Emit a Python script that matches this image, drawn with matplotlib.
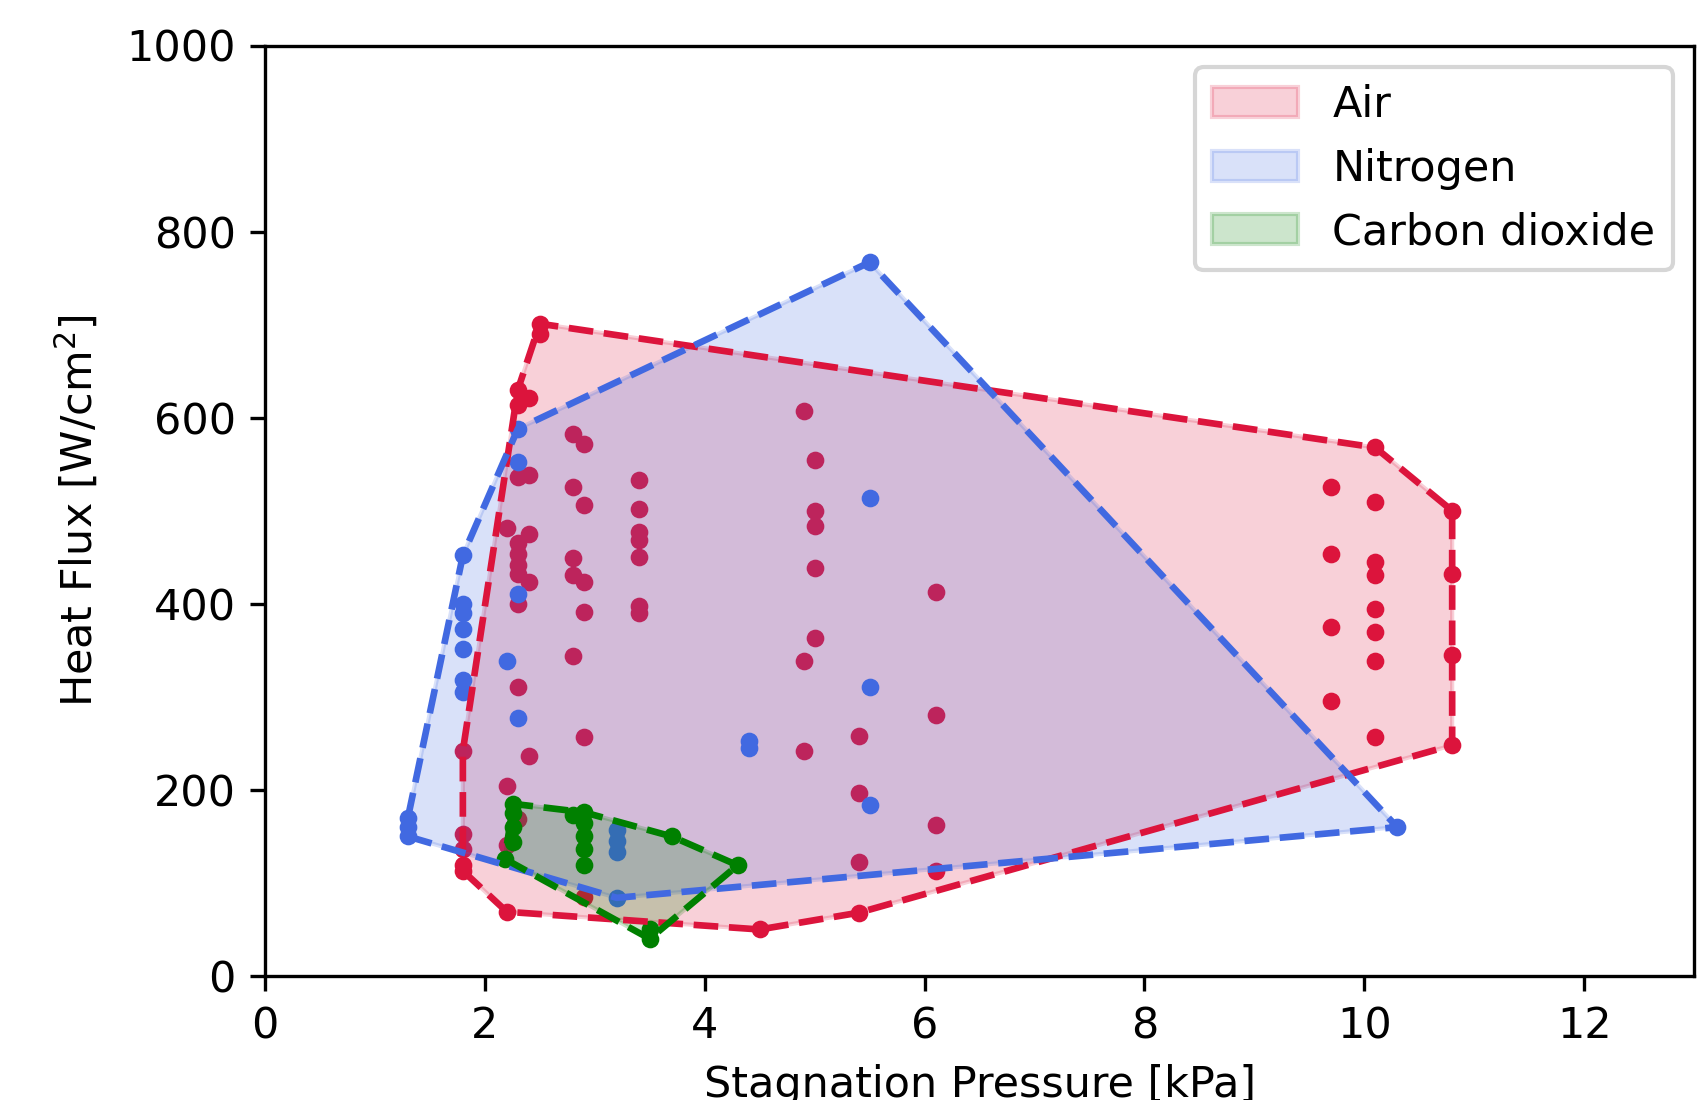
import matplotlib
matplotlib.use("Agg")
import matplotlib.pyplot as plt

# --- data (stagnation pressure kPa, heat flux W/cm2) ---
air_p = [1.8, 1.8, 1.8, 1.8, 1.8,
         2.2, 2.2, 2.2, 2.2,
         2.3, 2.3, 2.3, 2.3, 2.3, 2.3, 2.3, 2.3, 2.3, 2.3,
         2.4, 2.4, 2.4, 2.4, 2.4,
         2.5, 2.5,
         2.8, 2.8, 2.8, 2.8, 2.8,
         2.9, 2.9, 2.9, 2.9, 2.9, 2.9,
         3.4, 3.4, 3.4, 3.4, 3.4, 3.4, 3.4,
         4.5,
         4.9, 4.9, 4.9,
         5.0, 5.0, 5.0, 5.0, 5.0,
         5.4, 5.4, 5.4, 5.4,
         6.1, 6.1, 6.1, 6.1,
         9.7, 9.7, 9.7, 9.7,
         10.1, 10.1, 10.1, 10.1, 10.1, 10.1, 10.1, 10.1,
         10.8, 10.8, 10.8, 10.8]
air_q = [242, 153, 137, 119, 113,
         481, 204, 141, 69,
         630, 614, 536, 465, 454, 442, 432, 400, 311, 169,
         621, 538, 475, 423, 236,
         701, 690,
         583, 526, 449, 431, 344,
         572, 506, 423, 391, 257, 85,
         533, 502, 477, 469, 450, 398, 390,
         50,
         607, 339, 242,
         555, 500, 484, 439, 363,
         258, 197, 122, 68,
         413, 281, 162, 113,
         526, 454, 375, 296,
         568, 509, 445, 431, 394, 370, 339, 257,
         500, 432, 345, 248]

n2_p = [1.3, 1.3, 1.3,
        1.8, 1.8, 1.8, 1.8, 1.8, 1.8, 1.8,
        2.2,
        2.3, 2.3, 2.3, 2.3,
        3.2, 3.2, 3.2, 3.2,
        4.4, 4.4,
        5.5, 5.5, 5.5, 5.5,
        10.3]
n2_q = [170, 160, 150,
        452, 400, 390, 373, 351, 318, 305,
        338,
        588, 552, 411, 277,
        157, 145, 133, 84,
        253, 245,
        767, 514, 311, 184,
        160]

co2_p = [2.18, 2.26, 2.26, 2.26, 2.26,
         2.8, 2.9, 2.9, 2.9, 2.9, 2.9,
         3.5, 3.5, 3.7, 4.3]
co2_q = [126, 185, 175, 160, 144,
         173, 176, 164, 150, 137, 119,
         50, 40, 150, 119]

gases = ["Air", "Nitrogen", "Carbon dioxide"]
colors = ["crimson", "royalblue", "green"]


def convex_hull(xs, ys):
    # monotone chain, returns closed list of hull vertices
    pts = sorted(set(zip(xs, ys)))

    def cross(o, a, b):
        return (a[0] - o[0]) * (b[1] - o[1]) - (a[1] - o[1]) * (b[0] - o[0])

    lower, upper = [], []
    for p in pts:
        while len(lower) >= 2 and cross(lower[-2], lower[-1], p) <= 0:
            lower.pop()
        lower.append(p)
    for p in reversed(pts):
        while len(upper) >= 2 and cross(upper[-2], upper[-1], p) <= 0:
            upper.pop()
        upper.append(p)
    hull = lower[:-1] + upper[:-1]
    hull.append(hull[0])
    return [h[0] for h in hull], [h[1] for h in hull]


plt.rcParams["font.size"] = 10.3

fig = plt.figure(figsize=(1699 / 300, 1100 / 300), dpi=300)
ax = fig.add_axes([265 / 1699, 1 - 976 / 1100, (1694 - 265) / 1699, (976 - 45.5) / 1100])

for (p, q), name, c in zip([(air_p, air_q), (n2_p, n2_q), (co2_p, co2_q)], gases, colors):
    ax.scatter(p, q, color=c, s=18, linewidths=0)
    hx, hy = convex_hull(p, q)
    ax.fill(hx, hy, color=c, alpha=0.2, label=name)
    ax.plot(hx, hy, "--", color=c, lw=1.6)

ax.set_xlim(0, 13)
ax.set_ylim(0, 1000)
ax.set_xlabel("Stagnation Pressure [kPa]")
ax.set_ylabel("Heat Flux [W/cm$^2$]", labelpad=6)
ax.legend(loc="upper right")

fig.savefig("out.png", dpi=300)
